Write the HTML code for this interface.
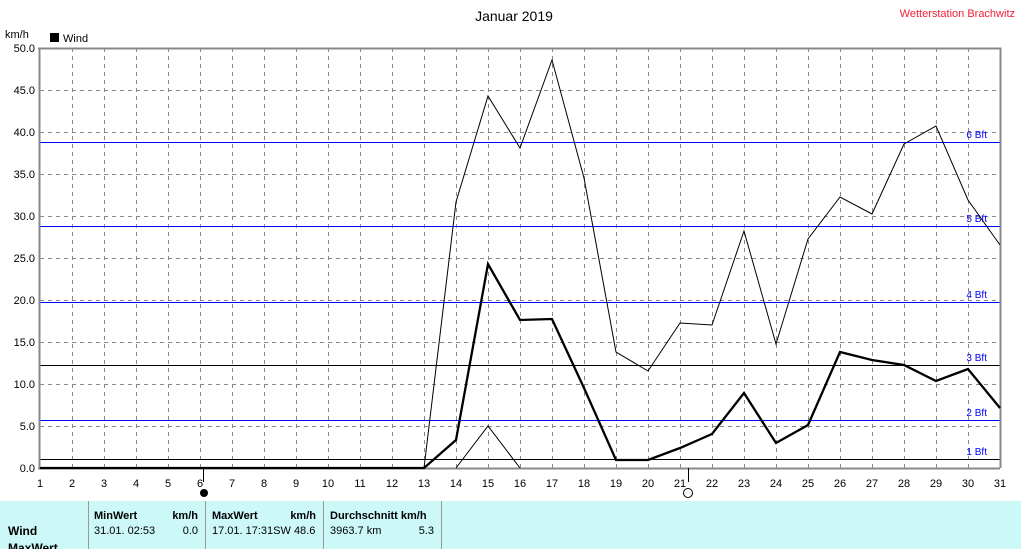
<!DOCTYPE html>
<html><head><meta charset="utf-8"><style>
body{margin:0;background:#fff;width:1021px;height:549px;overflow:hidden;font-family:"Liberation Sans",sans-serif}
svg text{font-family:"Liberation Sans",sans-serif}
</style></head><body>
<svg width="1021" height="549" xmlns="http://www.w3.org/2000/svg" style="position:absolute;left:0;top:0">
<text x="514" y="21" font-size="14" text-anchor="middle" fill="#000">Januar 2019</text>
<text x="1015" y="17" font-size="11" text-anchor="end" fill="#f0203a">Wetterstation Brachwitz</text>
<text x="5" y="38" font-size="11">km/h</text>
<rect x="50" y="33" width="9" height="9" fill="#000"/>
<text x="63" y="42" font-size="11">Wind</text>
<g stroke="#888" stroke-dasharray="4,4" stroke-width="1">
<path d="M72.5 48V468M104.5 48V468M136.5 48V468M168.5 48V468M200.5 48V468M232.5 48V468M264.5 48V468M296.5 48V468M328.5 48V468M360.5 48V468M392.5 48V468M424.5 48V468M456.5 48V468M488.5 48V468M520.5 48V468M552.5 48V468M584.5 48V468M616.5 48V468M648.5 48V468M680.5 48V468M712.5 48V468M744.5 48V468M776.5 48V468M808.5 48V468M840.5 48V468M872.5 48V468M904.5 48V468M936.5 48V468M968.5 48V468"/>
<path d="M40 90.5H1000M40 132.5H1000M40 174.5H1000M40 216.5H1000M40 258.5H1000M40 300.5H1000M40 342.5H1000M40 384.5H1000M40 426.5H1000"/>
</g>
<g stroke="#0000ff" stroke-width="1">
<path d="M40 142.5H1000M40 226.5H1000M40 302.5H1000M40 420.5H1000"/>
</g>
<path d="M40 365.5H1000M40 459.5H1000" stroke="#000" stroke-width="1"/>
<g font-size="10" fill="#0000ff" text-anchor="end">
<text x="987" y="138">6 Bft</text><text x="987" y="222">5 Bft</text><text x="987" y="298">4 Bft</text><text x="987" y="361">3 Bft</text><text x="987" y="416">2 Bft</text><text x="987" y="455">1 Bft</text>
</g>
<path d="M39.5 48V469M38 48.5H1000.5V468M38 468.5H1000" stroke="#888" stroke-width="2" fill="none"/>
<g font-size="11" text-anchor="end">
<text x="35" y="52">50.0</text><text x="35" y="94">45.0</text><text x="35" y="136">40.0</text><text x="35" y="178">35.0</text><text x="35" y="220">30.0</text><text x="35" y="262">25.0</text><text x="35" y="304">20.0</text><text x="35" y="346">15.0</text><text x="35" y="388">10.0</text><text x="35" y="430">5.0</text><text x="35" y="472">0.0</text>
</g>
<g font-size="11" text-anchor="middle">
<text x="40" y="487">1</text><text x="72" y="487">2</text><text x="104" y="487">3</text><text x="136" y="487">4</text><text x="168" y="487">5</text><text x="200" y="487">6</text><text x="232" y="487">7</text><text x="264" y="487">8</text><text x="296" y="487">9</text><text x="328" y="487">10</text><text x="360" y="487">11</text><text x="392" y="487">12</text><text x="424" y="487">13</text><text x="456" y="487">14</text><text x="488" y="487">15</text><text x="520" y="487">16</text><text x="552" y="487">17</text><text x="584" y="487">18</text><text x="616" y="487">19</text><text x="648" y="487">20</text><text x="680" y="487">21</text><text x="712" y="487">22</text><text x="744" y="487">23</text><text x="776" y="487">24</text><text x="808" y="487">25</text><text x="840" y="487">26</text><text x="872" y="487">27</text><text x="904" y="487">28</text><text x="936" y="487">29</text><text x="968" y="487">30</text><text x="1000" y="487">31</text>
</g>
<path d="M203.5 468V482M688.5 468V482" stroke="#000"/>
<circle cx="204" cy="493" r="4" fill="#000"/>
<circle cx="688" cy="493" r="4.5" fill="#fff" stroke="#000"/>
<polyline fill="none" stroke="#000" stroke-width="1" points="424,468 456,202 488,96 520,148 552,60 584,178 616,352 648,371 680,323 712,325 744,231 776,344 808,239 840,197 872,214 904,144 936,126 968,200 1000,245"/>
<polyline fill="none" stroke="#000" stroke-width="1" points="456,468 488,426 520,468"/>
<polyline fill="none" stroke="#000" stroke-width="2.3" points="40,468 424,468 456,440 488,264 520,320 552,319 584,388 616,460 648,460 680,448 712,434 744,393 776,443 808,425 840,352 872,360 904,365 936,381 968,369 1000,408"/>
<rect x="0" y="501" width="1021" height="48" fill="#ccf8f8"/>
<path d="M88.5 501V549M205.5 501V549M323.5 501V549M441.5 501V549" stroke="#999" stroke-width="1"/>
<g font-size="11">
<text x="94" y="519" font-weight="bold">MinWert</text><text x="198" y="519" font-weight="bold" text-anchor="end">km/h</text>
<text x="94" y="534">31.01.  02:53</text><text x="198" y="534" text-anchor="end">0.0</text>
<text x="212" y="519" font-weight="bold">MaxWert</text><text x="316" y="519" font-weight="bold" text-anchor="end">km/h</text>
<text x="212" y="534">17.01.  17:31SW 48.6</text>
<text x="330" y="519" font-weight="bold">Durchschnitt km/h</text>
<text x="330" y="534">3963.7 km</text><text x="434" y="534" text-anchor="end">5.3</text>
<text x="8" y="535" font-weight="bold" font-size="12">Wind</text>
<text x="8" y="552" font-weight="bold" font-size="12">MaxWert</text>
</g>
</svg>
</body></html>
